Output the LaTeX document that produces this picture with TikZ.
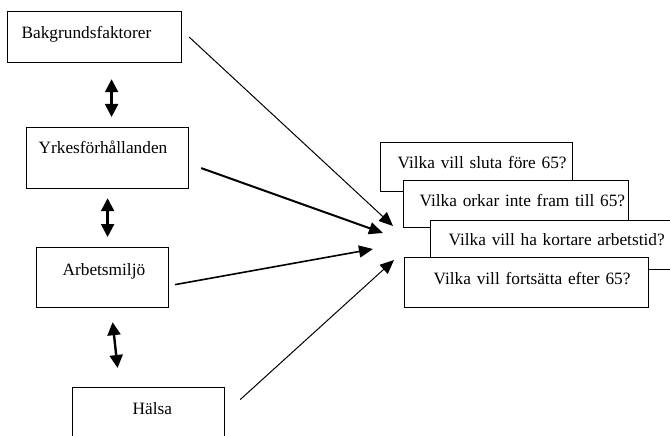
\documentclass[tikz,border=0pt]{standalone}
\usepackage{fontspec}
\setmainfont{Liberation Serif}
\usetikzlibrary{arrows.meta,positioning,calc}

\begin{document}
\begin{tikzpicture}[x=1pt,y=-1pt,
    ruta/.style={draw,fill=white,line width=1.2pt,anchor=north west,inner sep=0pt,align=left,font=\fontsize{17.3}{20}\selectfont},
    dubbel/.style={{Triangle[length=13pt,width=13pt]}-{Triangle[length=13pt,width=13pt]},line width=2.4pt},
    pil/.style={-{Triangle[length=14pt,width=12pt]}}]
  \clip (0,0) rectangle (670,436);
  % faktorer till vänster
  \node[ruta,text width=174pt,text height=26.5pt,text depth=24.5pt] (bakgrund) at (7,11) {\hspace*{14pt}Bakgrundsfaktorer};
  \node[ruta,text width=162pt,text height=26pt,text depth=35pt] (yrkes) at (26,127) {\hspace*{12pt}Yrkesförhållanden};
  \node[ruta,text width=132pt,text height=28pt,text depth=32pt] (arbets) at (36,247) {\hspace*{26pt}Arbetsmiljö};
  \node[ruta,text width=152pt,text height=27pt,text depth=35pt] (halsa) at (72,387) {\hspace*{60pt}Hälsa};
  % frågor till höger
  \node[ruta,text width=192pt,text height=26pt,text depth=23pt] (sluta) at (380,142) {\hspace*{17pt}Vilka vill sluta före 65?};
  \node[ruta,text width=225pt,text height=26pt,text depth=21pt] (orkar) at (403,180) {\hspace*{16pt}Vilka orkar inte fram till 65?};
  \node[ruta,text width=248pt,text height=25pt,text depth=24pt] (kortare) at (430,220) {\hspace*{18pt}Vilka vill ha kortare arbetstid?};
  \node[ruta,text width=244pt,text height=27pt,text depth=23pt] (fortsatta) at (404,257) {\hspace*{29pt}Vilka vill fortsätta efter 65?};
  % pilar mellan faktorerna
  \draw[dubbel] ([shift={(17,16)}]bakgrund.south) -- ([shift={(4,-10)}]yrkes.north);
  \draw[dubbel] ([shift={(0,9)}]yrkes.south) -- ([shift={(5,-10)}]arbets.north);
  \draw[dubbel] ([shift={(10,14)}]arbets.south) -- ([shift={(-31,-19)}]halsa.north);
  % pilar mot frågorna
  \coordinate (spets1) at (393,226);
  \coordinate (spets2) at (383,233);
  \coordinate (spets3) at (373,249);
  \coordinate (spets4) at (394,260);
  \draw[pil,line width=1pt] ([shift={(7,0)}]bakgrund.east) -- (spets1);
  \draw[pil,line width=2pt] ([shift={(12,10)}]yrkes.east) -- (spets2);
  \draw[pil,line width=1.6pt] ([shift={(6,7)}]arbets.east) -- (spets3);
  \draw[pil,line width=1pt] ([shift={(15,-19)}]halsa.east) -- (spets4);
\end{tikzpicture}
\end{document}
